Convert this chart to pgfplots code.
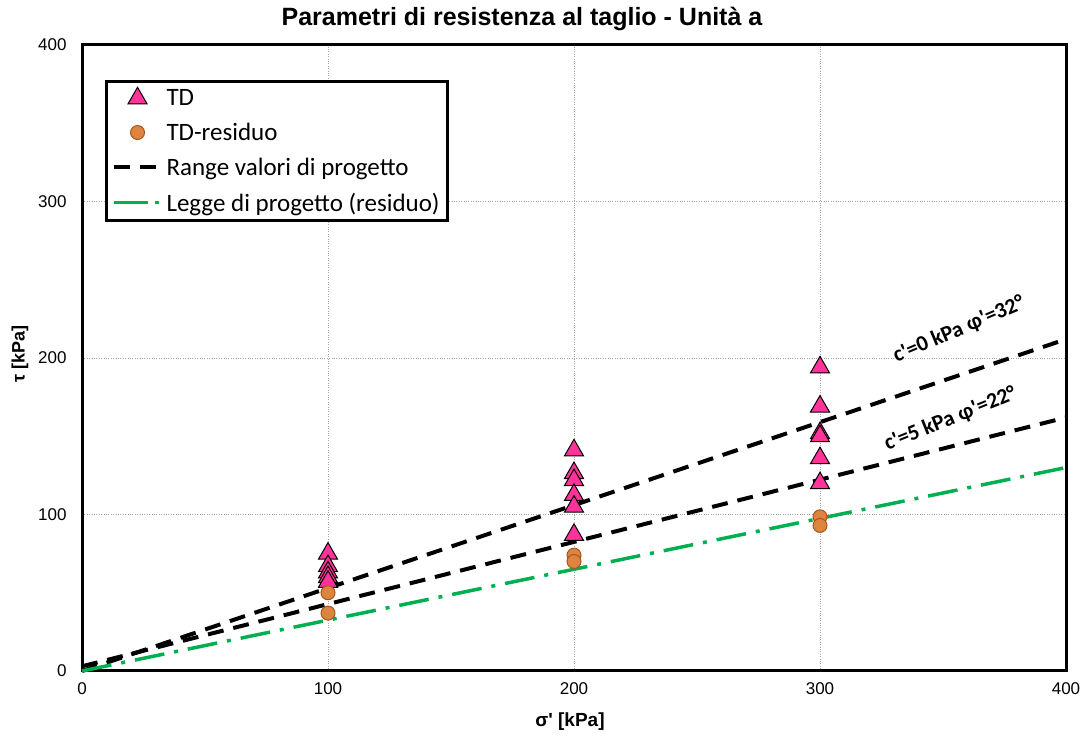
\documentclass[border=0pt]{standalone}
\usepackage{fontspec}
\setmainfont{Liberation Sans}
\newfontfamily\arial{Liberation Sans}
\newfontfamily\calibri{Carlito}
\usepackage{pgfplots}
\pgfplotsset{compat=1.18}
\definecolor{tdpink}{RGB}{255,51,153}
\definecolor{resorange}{RGB}{221,132,62}
\definecolor{resedge}{RGB}{166,86,30}
\definecolor{excelgreen}{RGB}{0,176,80}
\begin{document}
\begin{tikzpicture}[x=1pt,y=1pt]
\useasboundingbox (0,0) rectangle (1086,738);
\begin{axis}[
  at={(82pt,67pt)}, anchor=south west,
  scale only axis, width=984pt, height=626pt,
  xmin=0,xmax=400,ymin=0,ymax=400,
  xtick={0,100,...,400}, ytick={0,100,...,400},
  grid=major, grid style={gray!70, dotted, line width=0.8pt},
  axis line style={line width=3pt},
  major tick length=0pt,
  tick label style={font=\fontsize{17}{20}\selectfont},
  /pgf/number format/assume math mode=true,
  xticklabel style={yshift=-8pt},
  yticklabel style={xshift=-12pt},
  legend image code/.code={\draw[mark repeat=2,mark phase=2,#1] plot coordinates {(0pt,0pt)(24pt,0pt)(48pt,0pt)};},
  legend style={at={(0.0234,0.944)}, anchor=north west, draw=black, line width=3pt, fill=white,
    font=\calibri\fontsize{25}{29}\selectfont, row sep=10pt, inner sep=5pt,
    nodes={inner sep=3pt}},
  legend cell align=left,
  clip=false,
]
% lines (drawn beneath markers)
\addplot[forget plot, black, line width=4pt, dash pattern=on 16pt off 10pt] coordinates {(0,0)(400,212)};
\addplot[forget plot, black, line width=4pt, dash pattern=on 16pt off 10pt] coordinates {(0,3)(400,162)};
\addplot[forget plot, excelgreen, line width=3.5pt, dash pattern=on 30pt off 10pt on 4pt off 10pt] coordinates {(0,0)(400,130)};
% markers
\addplot[only marks, mark=triangle*, mark size=11pt, mark options={fill=tdpink, draw=black, line width=1pt}] coordinates {
(100,75)(100,67)(100,63)(100,60)(100,57)
(200,141)(200,126.5)(200,122)(200,112.5)(200,105)(200,87)
(300,194)(300,169)(300,152)(300,150)(300,136)(300,120)};
\addlegendentry{TD}
\addplot[only marks, mark=*, mark size=7pt, mark options={fill=resorange, draw=resedge, line width=1pt}] coordinates {
(100,50)(100,37)(200,74)(200,70)(300,98.5)(300,93)};
\addlegendentry{TD-residuo}
\addlegendimage{black, line width=4pt, dash pattern=on 16pt off 10pt}
\addlegendentry{Range valori di progetto}
\addlegendimage{excelgreen, line width=3.5pt, dash pattern=on 34pt off 7pt on 4pt off 10pt}
\addlegendentry{Legge di progetto (residuo)}
\node[rotate=23, font=\calibri\bfseries\fontsize{22}{26}\selectfont] at (axis cs:356.5,218) {c\textquotesingle=0 kPa φ\textquotesingle=32°};
\node[rotate=22, font=\calibri\bfseries\fontsize{22}{26}\selectfont] at (axis cs:353,161) {c\textquotesingle=5 kPa φ\textquotesingle=22°};
\end{axis}
\node[anchor=base, font=\arial\bfseries\fontsize{25}{29}\selectfont] at (522,712) {Parametri di resistenza al taglio - Unità a};
\node[anchor=base, font=\arial\bfseries\fontsize{19}{23}\selectfont] at (570,11) {σ\textquotesingle{} [kPa]};
\node[rotate=90, font=\arial\bfseries\fontsize{18}{22}\selectfont] at (20,384) {τ [kPa]};
\end{tikzpicture}
\end{document}
